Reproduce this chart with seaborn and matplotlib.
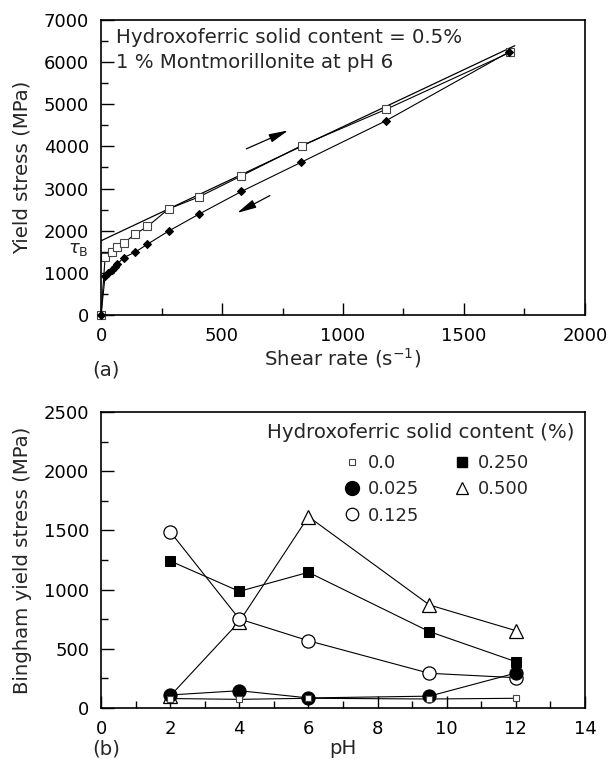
import matplotlib
matplotlib.use("Agg")
import matplotlib.pyplot as plt
import seaborn as sns
import pandas as pd
from matplotlib.lines import Line2D
from matplotlib.ticker import MultipleLocator

# ---------------- data: panel (a) ----------------
up_shear = [0, 17, 44, 65, 93, 141, 192, 279, 404, 580, 829, 1178, 1690]
up_stress = [0, 1370, 1490, 1620, 1700, 1920, 2100, 2515, 2800, 3300, 4020, 4880, 6230]
down_shear = [0, 17, 30, 44, 58, 68, 93, 141, 192, 279, 404, 580, 826, 1178, 1686]
down_stress = [0, 930, 1000, 1070, 1150, 1210, 1360, 1490, 1680, 1990, 2390, 2930, 3620, 4610, 6240]
fit_shear = [0, 1710]
fit_stress = [1760, 6390]

# ---------------- data: panel (b) ----------------
ph = [2, 4, 6, 9.5, 12]
content_labels = ["0.0", "0.025", "0.125", "0.250", "0.500"]
s_000 = [80, 73, 82, 76, 82]
s_025 = [110, 146, 85, 100, 295]
s_125 = [1489, 752, 568, 293, 256]
s_250 = [1242, 985, 1146, 645, 391]
s_500 = [101, 729, 1616, 870, 653]

sns.set_theme(style="ticks")
plt.rcParams['font.family'] = ['DejaVu Sans']
FS = 13      # tick / legend numbers
FT = 14.2    # words
plt.rcParams['font.size'] = FS

fig = plt.figure(figsize=(6.1, 7.59), dpi=100)
ax1 = fig.add_axes([0.1656, 0.585, 0.7934, 0.3887])
ax2 = fig.add_axes([0.1656, 0.0672, 0.7934, 0.39])

lw = 0.8
# ---------- panel (a) ----------
df_up = pd.DataFrame({"x": up_shear, "y": up_stress})
df_dn = pd.DataFrame({"x": down_shear, "y": down_stress})
df_fit = pd.DataFrame({"x": fit_shear, "y": fit_stress})
sns.lineplot(data=df_fit, x="x", y="y", ax=ax1, color="black", lw=0.9, sort=False, estimator=None)
sns.lineplot(data=df_up, x="x", y="y", ax=ax1, color="black", lw=lw, sort=False, estimator=None,
             marker="s", markersize=5.8, markerfacecolor="white", markeredgecolor="#444444",
             markeredgewidth=0.8, clip_on=False)
sns.lineplot(data=df_dn, x="x", y="y", ax=ax1, color="black", lw=lw, sort=False, estimator=None,
             marker="D", markersize=4.5, markerfacecolor="black", markeredgecolor="black",
             clip_on=False)

ax1.set_xlim(0, 2000)
ax1.set_ylim(0, 7000)
ax1.xaxis.set_major_locator(MultipleLocator(500))
ax1.xaxis.set_minor_locator(MultipleLocator(250))
ax1.yaxis.set_major_locator(MultipleLocator(1000))
ax1.yaxis.set_minor_locator(MultipleLocator(500))
ax1.set_xlabel("Shear rate (s$^{-1}$)", fontsize=FT)
ax1.set_ylabel("Yield stress (MPa)", fontsize=FT)
ax1.xaxis.set_label_coords(0.5, -0.105)
ax1.yaxis.set_label_coords(-0.143, 0.5)
ax1.text(62, 6455, "Hydroxoferric solid content = 0.5%", fontsize=FT, va="baseline")
ax1.text(62, 5861, "1 % Montmorillonite at pH 6", fontsize=FT, va="baseline")
ax1.text(-0.025, 1560, r"$\tau_\mathrm{B}$", fontsize=FS, ha="right", va="center",
         transform=ax1.get_yaxis_transform())
ax1.text(-0.019, -0.155, "(a)", fontsize=FT, ha="left", va="top", transform=ax1.transAxes)
ax1.annotate("", xy=(784, 4406), xytext=(590, 3915),
             arrowprops=dict(arrowstyle="-|>,head_length=0.9,head_width=0.2", color="black", lw=0.9))
ax1.annotate("", xy=(552, 2390), xytext=(708, 2864),
             arrowprops=dict(arrowstyle="-|>,head_length=0.9,head_width=0.2", color="black", lw=0.9))

# ---------- panel (b) ----------
series = [
    (s_000, dict(marker="s", markersize=5, markerfacecolor="white", markeredgecolor="#444444", markeredgewidth=0.8)),
    (s_025, dict(marker="o", markersize=9.5, markerfacecolor="black", markeredgecolor="black")),
    (s_125, dict(marker="o", markersize=9.5, markerfacecolor="white", markeredgecolor="black", markeredgewidth=0.9)),
    (s_250, dict(marker="s", markersize=7, markerfacecolor="black", markeredgecolor="black")),
    (s_500, dict(marker="^", markersize=10, markerfacecolor="white", markeredgecolor="black", markeredgewidth=0.9)),
]
order = [4, 2, 3, 1, 0]
for i in order:
    vals, kw = series[i]
    d = pd.DataFrame({"pH": ph, "v": vals})
    sns.lineplot(data=d, x="pH", y="v", ax=ax2, color="black", lw=lw, sort=False, estimator=None,
                 clip_on=False, **kw)

ax2.set_xlim(0, 14)
ax2.set_ylim(0, 2500)
ax2.xaxis.set_major_locator(MultipleLocator(2))
ax2.xaxis.set_minor_locator(MultipleLocator(1))
ax2.yaxis.set_major_locator(MultipleLocator(500))
ax2.yaxis.set_minor_locator(MultipleLocator(250))
ax2.set_xlabel("pH", fontsize=FT)
ax2.set_ylabel("Bingham yield stress (MPa)", fontsize=FT)
ax2.xaxis.set_label_coords(0.5, -0.106)
ax2.yaxis.set_label_coords(-0.143, 0.5)
ax2.text(-0.019, -0.169, "(b)", fontsize=FT, ha="left", va="bottom", transform=ax2.transAxes)
ax2.text(0.979, 0.912, "Hydroxoferric solid content (%)", fontsize=FT, ha="right", va="baseline",
         transform=ax2.transAxes)

handles = []
leg_ms = [5, 10, 9, 6.5, 9]
for (vals, kw), ms in zip(series, leg_ms):
    kk = dict(kw)
    kk["markersize"] = ms
    handles.append(Line2D([], [], linestyle="none", color="black", **kk))
ax2.legend(handles, content_labels, ncol=2, loc="upper left", bbox_to_anchor=(0.5, 0.857),
           frameon=False, borderpad=0, borderaxespad=0, handlelength=1.0, handletextpad=0.4,
           columnspacing=1.82, labelspacing=0.45, fontsize=FS)

for ax in (ax1, ax2):
    for sp in ax.spines.values():
        sp.set_linewidth(1.2)
        sp.set_color("black")
    ax.tick_params(which="both", direction="in", top=False, right=False, colors="black",
                   labelsize=FS, pad=8.5)
    ax.tick_params(which="major", length=9, width=1.0)
    ax.tick_params(which="minor", length=5, width=1.0)

fig.savefig("out.png", dpi=100)
